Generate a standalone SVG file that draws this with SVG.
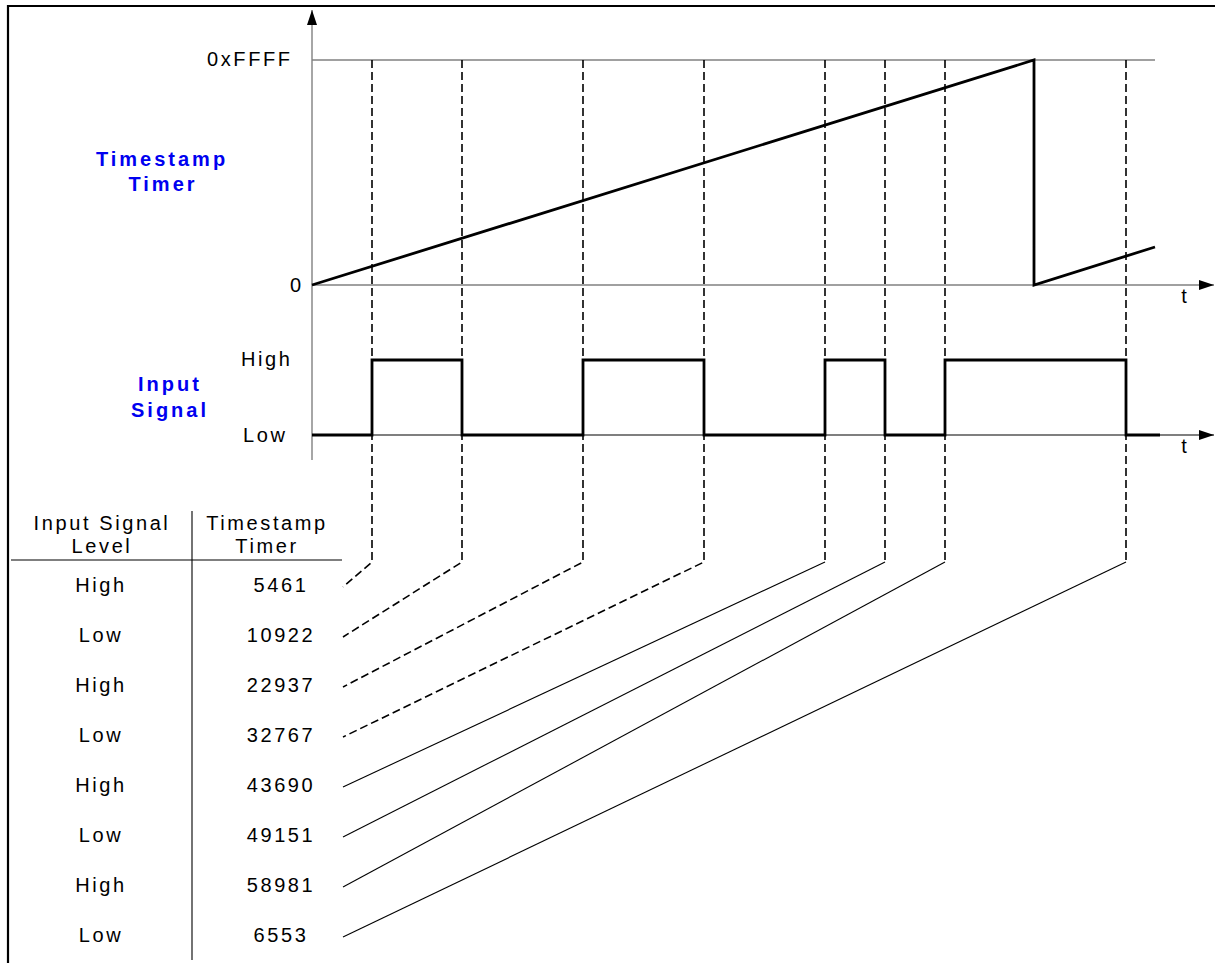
<svg xmlns="http://www.w3.org/2000/svg" width="1215" height="963" viewBox="0 0 1215 963">
<style>
text{font-family:"Liberation Sans",Arial,sans-serif;font-size:20px;letter-spacing:2.6px;fill:#000}
.blue{fill:#0000f0;font-weight:bold;letter-spacing:3px}
.mid{text-anchor:middle}
.end{text-anchor:end}
.axis{stroke:#808080;stroke-width:1.4;fill:none}
.thin{stroke:#000;stroke-width:1.1;fill:none}
.wave{stroke:#000;stroke-width:2.8;fill:none;stroke-linejoin:miter}
.dash{stroke:#000;stroke-width:1.6;fill:none;stroke-dasharray:8,4}
</style>
<defs>
<marker id="arr" markerWidth="16" markerHeight="12" refX="15" refY="6" orient="auto" markerUnits="userSpaceOnUse">
<path d="M0,1 L15,6 L0,11 Z" fill="#000"/>
</marker>
</defs>
<rect width="1215" height="963" fill="#fff"/>
<g id="frame">
<path d="M8,963 V6 H1215" stroke="#000" stroke-width="2.2" fill="none"/>
</g>
<g id="axes">
<line x1="312" y1="460" x2="312" y2="10" class="axis" marker-end="url(#arr)"/>
<line x1="312" y1="60" x2="1155" y2="60" class="axis"/>
<line x1="312" y1="285" x2="1214" y2="285" class="axis" marker-end="url(#arr)"/>
<line x1="312" y1="435" x2="1214" y2="435" class="thin" marker-end="url(#arr)"/>
<text x="1184" y="303" class="mid" style="letter-spacing:0">t</text>
<text x="1184" y="453" class="mid" style="letter-spacing:0">t</text>
<text x="207" y="66">0xFFFF</text>
<text x="290" y="292">0</text>
<text x="241" y="366">High</text>
<text x="243" y="442">Low</text>
</g>
<g id="label-timer">
<text x="162" y="166" class="blue mid">Timestamp</text>
<text x="163" y="191" class="blue mid">Timer</text>
</g>
<g id="label-signal">
<text x="170" y="391" class="blue mid">Input</text>
<text x="170" y="417" class="blue mid">Signal</text>
</g>
<g id="timer-wave">
<path d="M312,285 L1034,60 L1034,285 L1155,247" class="wave"/>
</g>
<g id="signal-wave">
<path d="M312,435 H372 V360 H462 V435 H583 V360 H704 V435 H825 V360 H885 V435 H945 V360 H1126 V435 H1160" class="wave"/>
</g>
<g id="connectors">
<path d="M372,60 V562 L343,587" class="dash"/>
<path d="M462,60 V562 L343,637" class="dash"/>
<path d="M583,60 V562 L343,687" class="dash"/>
<path d="M704,60 V562 L343,737" class="dash"/>
<path d="M825,60 V562" class="dash"/>
<path d="M885,60 V562" class="dash"/>
<path d="M945,60 V562" class="dash"/>
<path d="M1126,60 V562" class="dash"/>
<path d="M825,562 L343,787" class="thin"/>
<path d="M885,562 L343,837" class="thin"/>
<path d="M945,562 L343,887" class="thin"/>
<path d="M1126,562 L343,937" class="thin"/>
</g>
<g id="table">
<line x1="11" y1="560" x2="342" y2="560" class="thin"/>
<line x1="192" y1="511" x2="192" y2="960" class="thin"/>
<text x="102" y="530" class="mid">Input Signal</text>
<text x="102" y="553" class="mid">Level</text>
<text x="267" y="530" class="mid">Timestamp</text>
<text x="267" y="553" class="mid">Timer</text>
<text x="101" y="592" class="mid">High</text>
<text x="101" y="642" class="mid">Low</text>
<text x="101" y="692" class="mid">High</text>
<text x="101" y="742" class="mid">Low</text>
<text x="101" y="792" class="mid">High</text>
<text x="101" y="842" class="mid">Low</text>
<text x="101" y="892" class="mid">High</text>
<text x="101" y="942" class="mid">Low</text>
<text x="281" y="592" class="mid">5461</text>
<text x="281" y="642" class="mid">10922</text>
<text x="281" y="692" class="mid">22937</text>
<text x="281" y="742" class="mid">32767</text>
<text x="281" y="792" class="mid">43690</text>
<text x="281" y="842" class="mid">49151</text>
<text x="281" y="892" class="mid">58981</text>
<text x="281" y="942" class="mid">6553</text>
</g>
</svg>
